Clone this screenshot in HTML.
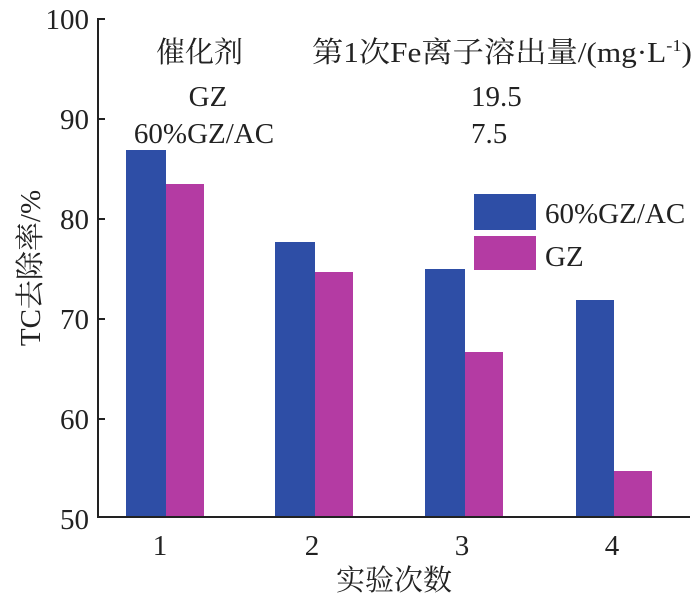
<!DOCTYPE html>
<html><head><meta charset="utf-8"><style>
body{margin:0;background:#fff}
svg text{font-family:"Liberation Serif","Noto Serif CJK SC",serif;fill:#222}
</style></head><body>
<svg width="700" height="602" xmlns="http://www.w3.org/2000/svg">
<g font-size="29">
<text x="89" y="29" text-anchor="end">100</text>
<text x="89" y="129" text-anchor="end">90</text>
<text x="89" y="229" text-anchor="end">80</text>
<text x="89" y="329" text-anchor="end">70</text>
<text x="89" y="429" text-anchor="end">60</text>
<text x="89" y="529" text-anchor="end">50</text>
</g>
<g fill="#2e4ea6">
<rect x="126" y="150" width="40" height="367"/>
<rect x="275" y="242" width="40" height="275"/>
<rect x="425" y="269" width="40" height="248"/>
<rect x="576" y="300" width="38" height="217"/>
<rect x="474" y="194" width="62" height="36"/>
</g>
<g fill="#b43ba3">
<rect x="166" y="184" width="38" height="333"/>
<rect x="315" y="272" width="38" height="245"/>
<rect x="465" y="352" width="38" height="165"/>
<rect x="614" y="471" width="38" height="46"/>
<rect x="474" y="236" width="62" height="34"/>
</g>
<g stroke="#222" stroke-width="2" fill="none">
<path d="M98 18V517H690"/>
<path d="M98 19h7M98 119h7M98 219h7M98 319h7M98 419h7"/>
</g>
<g font-size="29">
<text x="545" y="223">60%GZ/AC</text>
<text x="545" y="266">GZ</text>
<text x="160" y="555" text-anchor="middle">1</text>
<text x="312" y="555" text-anchor="middle">2</text>
<text x="462" y="555" text-anchor="middle">3</text>
<text x="612" y="555" text-anchor="middle">4</text>
<text x="394" y="590" text-anchor="middle">实验次数</text>
<text transform="translate(40,268) rotate(-90)" text-anchor="middle">TC去除率/%</text>
<text x="156" y="62">催化剂</text>
<text x="312" y="62" textLength="380" lengthAdjust="spacingAndGlyphs">第1次Fe离子溶出量/(mg·L<tspan font-size="17" dy="-11">-1</tspan><tspan dy="11">)</tspan></text>
<text x="208" y="106" text-anchor="middle">GZ</text>
<text x="204" y="143" text-anchor="middle">60%GZ/AC</text>
<text x="471" y="106">19.5</text>
<text x="471" y="143">7.5</text>
</g>
</svg>
</body></html>
